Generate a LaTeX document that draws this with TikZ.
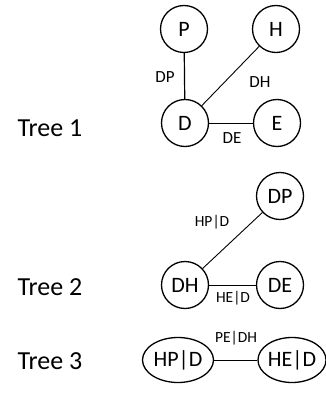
\documentclass[tikz,border=0pt]{standalone}
\usepackage{fontspec}
\setmainfont{Carlito}
\usetikzlibrary{shapes.geometric}
\begin{document}
\begin{tikzpicture}[x=1pt,y=-1pt,
  vnode/.style={circle,draw,line width=1.3pt,minimum size=47pt,inner sep=0pt,font=\fontsize{22}{22}\selectfont},
  enode/.style={ellipse,draw,line width=1.3pt,minimum width=71pt,minimum height=45pt,inner sep=0pt,font=\fontsize{22}{22}\selectfont},
  edge/.style={draw,line width=0.9pt},
  elabel/.style={font=\fontsize{17}{17}\selectfont,inner sep=0pt},
  slabel/.style={font=\fontsize{15.5}{15.5}\selectfont,inner sep=0pt},
  treelabel/.style={font=\fontsize{26}{26}\selectfont,inner sep=0pt}]
\useasboundingbox (0,0) rectangle (326,393);
% Tree 1
\node[treelabel] (t1) at (50,128) {Tree 1};
\node[vnode] (P) at (184,29) {P};
\node[vnode] (H) at (276,29) {H};
\node[vnode] (D) at (185,123) {D};
\node[vnode] (E) at (277,123) {E};
\draw[edge,line width=1.2pt] (P) -- (D);
\draw[edge] (H) -- (D);
\draw[edge] (D) -- (E);
\node[elabel] (lDP) at (165,77) {DP};
\node[elabel] (lDH) at (260,82) {DH};
\node[elabel] (lDE) at (232,138) {DE};
% Tree 2
\node[treelabel] (t2) at (50,287) {Tree 2};
\node[vnode] (DP) at (280,196) {DP};
\node[vnode] (DH) at (185,285) {DH};
\node[vnode] (DE) at (280,285) {DE};
\draw[edge] (DP) -- (DH);
\draw[edge] (DH) -- (DE);
\node[slabel] (lHPD) at (212,222) {HP|D};
\node[slabel] (lHED) at (233,298) {HE|D};
% Tree 3
\node[treelabel] (t3) at (50,361) {Tree 3};
\node[enode] (HPD) at (178,360) {HP|D};
\node[enode,minimum width=67pt] (HED) at (292,360) {HE|D};
\draw[edge] (HPD) -- (HED);
\node[slabel] (lPEDH) at (236,338) {PE|DH};
\end{tikzpicture}
\end{document}
